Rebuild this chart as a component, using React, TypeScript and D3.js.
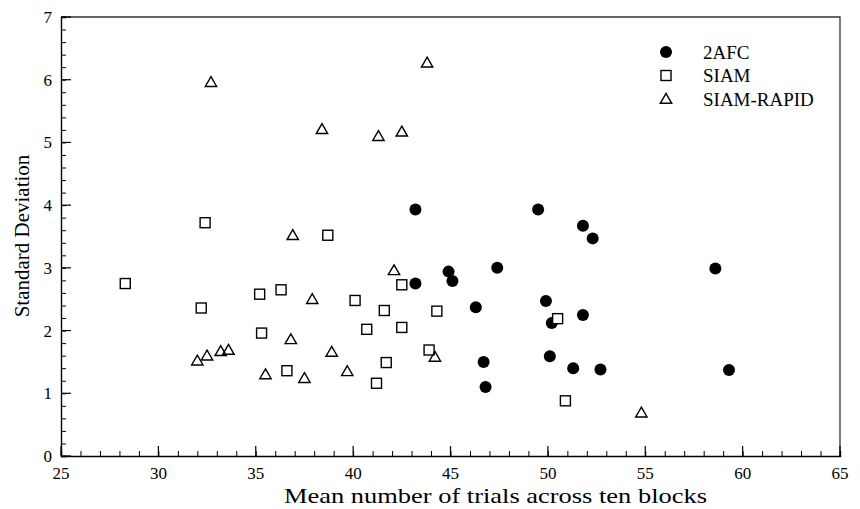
import React, { useRef, useEffect } from "react";
import * as d3 from "d3";

// 2AFC (filled circles)
const afcTrials = [43.2, 49.5, 51.8, 52.3, 47.4, 44.9, 45.1, 43.2, 46.3, 49.9, 50.2, 51.8, 58.6, 46.7, 46.8, 50.1, 51.3, 52.7, 59.3];
const afcSD = [3.93, 3.93, 3.67, 3.47, 3.0, 2.94, 2.79, 2.75, 2.37, 2.47, 2.12, 2.25, 2.99, 1.5, 1.1, 1.59, 1.4, 1.38, 1.37];

// SIAM (open squares)
const siamTrials = [28.3, 32.4, 32.2, 35.2, 36.3, 35.3, 36.6, 38.7, 40.1, 40.7, 41.6, 41.7, 41.2, 42.5, 42.5, 43.9, 44.3, 50.5, 50.9];
const siamSD = [2.75, 3.72, 2.36, 2.58, 2.65, 1.96, 1.36, 3.52, 2.48, 2.02, 2.32, 1.49, 1.16, 2.73, 2.05, 1.69, 2.31, 2.19, 0.88];

// SIAM-RAPID (open triangles)
const rapidTrials = [32.7, 43.8, 38.4, 41.3, 42.5, 36.9, 42.1, 37.9, 32.0, 32.5, 33.2, 33.6, 35.5, 36.8, 37.5, 38.9, 39.7, 44.2, 54.8];
const rapidSD = [5.96, 6.27, 5.21, 5.1, 5.17, 3.52, 2.96, 2.5, 1.52, 1.6, 1.67, 1.69, 1.3, 1.86, 1.24, 1.66, 1.35, 1.58, 0.69];

const xTicks = [25, 30, 35, 40, 45, 50, 55, 60, 65];
const yTicks = [0, 1, 2, 3, 4, 5, 6, 7];
const legendNames = ["2AFC", "SIAM", "SIAM-RAPID"];

const width = 860;
const height = 509;
const margin = { top: 17, right: 20, bottom: 53, left: 61 };
const font = "'Liberation Serif', 'Times New Roman', serif";

function drawMarker(g, kind, cx, cy) {
  if (kind === 0) {
    g.append("circle").attr("cx", cx).attr("cy", cy).attr("r", 6).attr("fill", "#000");
  } else if (kind === 1) {
    g.append("rect")
      .attr("x", cx - 5).attr("y", cy - 5)
      .attr("width", 10).attr("height", 10)
      .attr("fill", "#fff").attr("stroke", "#000").attr("stroke-width", 1.4);
  } else {
    const tri = d3.symbol().type(d3.symbolTriangle).size(56);
    g.append("path")
      .attr("d", tri())
      .attr("transform", `translate(${cx},${cy + 1})`)
      .attr("fill", "none").attr("stroke", "#000").attr("stroke-width", 1.4);
  }
}

function Chart() {
  const svgRef = useRef(null);
  useEffect(() => {
    const svg = d3.select(svgRef.current);
    svg.selectAll("*").remove();

    const x = d3.scaleLinear().domain([25, 65]).range([margin.left, width - margin.right]);
    const y = d3.scaleLinear().domain([0, 7]).range([height - margin.bottom, margin.top]);
    const x0 = x(25), x1 = x(65), y0 = y(0), y1 = y(7);

    // frame (top/right)
    svg.append("path")
      .attr("d", `M${x0},${y1}H${x1}V${y0}`)
      .attr("fill", "none").attr("stroke", "#333").attr("stroke-width", 1.3);

    // x axis
    const xAxis = d3.axisBottom(x).tickValues(d3.range(25, 65.01, 1)).tickSize(-5).tickFormat(() => "");
    svg.append("g").attr("transform", `translate(0,${y0})`).call(xAxis)
      .call(g => g.select(".domain").attr("stroke-width", 1.4));
    const xMajor = svg.append("g").attr("transform", `translate(0,${y0})`);
    xMajor.selectAll("line").data(xTicks).join("line")
      .attr("x1", d => x(d)).attr("x2", d => x(d)).attr("y1", 0).attr("y2", -10)
      .attr("stroke", "#000").attr("stroke-width", 1.2);
    xMajor.selectAll("text").data(xTicks).join("text")
      .attr("x", d => x(d)).attr("y", 23)
      .attr("text-anchor", "middle")
      .style("font", `17px ${font}`)
      .text(d => d);

    // y axis
    const yAxis = d3.axisLeft(y).tickValues(d3.range(0, 7.001, 0.2)).tickSize(-5).tickFormat(() => "");
    svg.append("g").attr("transform", `translate(${x0},0)`).call(yAxis)
      .call(g => g.select(".domain").attr("stroke-width", 1.4));
    const yMajor = svg.append("g").attr("transform", `translate(${x0},0)`);
    yMajor.selectAll("line").data(yTicks).join("line")
      .attr("y1", d => y(d)).attr("y2", d => y(d)).attr("x1", 0).attr("x2", 10)
      .attr("stroke", "#000").attr("stroke-width", 1.2);
    yMajor.selectAll("text").data(yTicks).join("text")
      .attr("x", -9).attr("y", d => y(d)).attr("dy", "0.35em")
      .attr("text-anchor", "end")
      .style("font", `17px ${font}`)
      .text(d => d);

    // axis titles
    svg.append("text")
      .attr("x", 284).attr("y", 503)
      .attr("textLength", 423)
      .attr("lengthAdjust", "spacingAndGlyphs")
      .style("font", `21px ${font}`)
      .text("Mean number of trials across ten blocks");
    svg.append("text")
      .attr("transform", `translate(29,236) rotate(-90)`)
      .attr("text-anchor", "middle")
      .style("font", `21px ${font}`)
      .text("Standard Deviation");

    // points
    const pts = svg.append("g");
    afcTrials.forEach((t, i) => drawMarker(pts, 0, x(t), y(afcSD[i])));
    siamTrials.forEach((t, i) => drawMarker(pts, 1, x(t), y(siamSD[i])));
    rapidTrials.forEach((t, i) => drawMarker(pts, 2, x(t), y(rapidSD[i])));

    // legend
    const lg = svg.append("g");
    legendNames.forEach((name, i) => {
      const ly = 52 + i * 23.5;
      drawMarker(lg, i, 666, ly);
      lg.append("text")
        .attr("x", 703).attr("y", ly).attr("dy", "0.35em")
        .style("font", `19px ${font}`)
        .text(name);
    });
  }, []);

  return (
    <svg
      ref={svgRef}
      width={width}
      height={height}
      style={{ position: "fixed", left: 0, top: 0, background: "#fff" }}
    ></svg>
  );
}

export default function App() {
  return <Chart />;
}
